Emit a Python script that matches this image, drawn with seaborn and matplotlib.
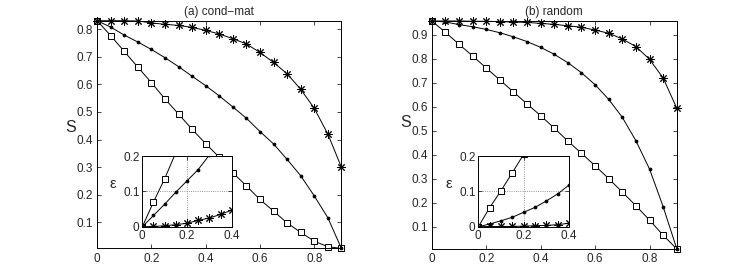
import pandas as pd
import matplotlib.pyplot as plt
import seaborn as sns

# fraction of removed edges (main panels)
x_main = [0, 0.05, 0.1, 0.15, 0.2, 0.25, 0.3, 0.35, 0.4, 0.45,
          0.5, 0.55, 0.6, 0.65, 0.7, 0.75, 0.8, 0.85, 0.9]

# (a) cond-mat
cm_square = [0.83, 0.776, 0.719, 0.662, 0.606, 0.547, 0.492, 0.437, 0.385, 0.336,
             0.280, 0.232, 0.183, 0.141, 0.098, 0.064, 0.032, 0.012, 0.006]
cm_dot = [0.83, 0.807, 0.778, 0.753, 0.726, 0.696, 0.664, 0.629, 0.595, 0.558,
          0.518, 0.477, 0.429, 0.384, 0.328, 0.269, 0.196, 0.117, 0.006]
cm_star = [0.83, 0.83, 0.83, 0.829, 0.822, 0.817, 0.813, 0.806, 0.795, 0.782,
           0.765, 0.746, 0.715, 0.679, 0.638, 0.582, 0.513, 0.42, 0.30]

# (b) random
rnd_square = [0.958, 0.911, 0.861, 0.812, 0.762, 0.712, 0.662, 0.612, 0.563, 0.511,
              0.457, 0.406, 0.354, 0.300, 0.244, 0.187, 0.127, 0.064, 0.007]
rnd_dot = [0.958, 0.954, 0.943, 0.934, 0.923, 0.909, 0.892, 0.872, 0.848, 0.819,
           0.784, 0.742, 0.692, 0.631, 0.556, 0.458, 0.340, 0.183, 0.007]
rnd_star = [0.958, 0.958, 0.958, 0.957, 0.957, 0.955, 0.954, 0.952, 0.948, 0.944,
            0.938, 0.932, 0.920, 0.907, 0.883, 0.851, 0.798, 0.720, 0.594]

# insets: epsilon
x_in = [0, 0.05, 0.1, 0.15, 0.2, 0.25, 0.3, 0.35, 0.4]
cm_in_square = [0, 0.07, 0.136, 0.21]
cm_in_dot = [0, 0.032, 0.064, 0.098, 0.130, 0.162, 0.203]
cm_in_star = [0, 0.001, 0.003, 0.006, 0.010, 0.018, 0.025, 0.035, 0.047]
rnd_in_square = [0, 0.054, 0.102, 0.153, 0.205]
rnd_in_dot = [0, 0.008, 0.017, 0.027, 0.041, 0.055, 0.073, 0.093, 0.118]
rnd_in_star = [0, 0.001, 0.001, 0.001, 0.002, 0.003, 0.004, 0.006, 0.010]

titles = ["(a) cond\u2212mat", "(b) random"]
x_ticks = [0, 0.2, 0.4, 0.6, 0.8]
x_ticklabels = ["0", "0.2", "0.4", "0.6", "0.8"]
y_ticks_a = [0.1, 0.2, 0.3, 0.4, 0.5, 0.6, 0.7, 0.8]
y_ticks_b = [0.1, 0.2, 0.3, 0.4, 0.5, 0.6, 0.7, 0.8, 0.9]
in_x_ticks = [0, 0.2, 0.4]
in_x_ticklabels = ["0", "0.2", "0.4"]
in_y_ticks = [0, 0.1, 0.2]
in_y_ticklabels = ["0", "0.1", "0.2"]

sns.set_style("ticks")
plt.rcParams['font.family'] = ['Liberation Sans', 'DejaVu Sans']
plt.rcParams.update({'font.size': 8.5, 'axes.linewidth': 0.7,
                     'xtick.direction': 'in', 'ytick.direction': 'in',
                     'xtick.top': True, 'ytick.right': True,
                     'xtick.major.size': 3, 'ytick.major.size': 3,
                     'xtick.major.width': 0.6, 'ytick.major.width': 0.6,
                     'axes.edgecolor': 'k'})

STYLES = {
    'square': dict(marker='s', markersize=5, markerfacecolor='w'),
    'dot': dict(marker='o', markersize=2, markerfacecolor='k'),
    'star': dict(marker=(8, 2, 0), markersize=6, markerfacecolor='k'),
}


def draw_series(ax, x, ys, clip):
    for kind, y in ys.items():
        df = pd.DataFrame({'x': x[:len(y)], 'y': y})
        sns.lineplot(data=df, x='x', y='y', ax=ax, color='k', lw=0.7,
                     markeredgecolor='k', markeredgewidth=0.7,
                     errorbar=None, clip_on=clip, **STYLES[kind])


fig = plt.figure(figsize=(7.47, 2.8), dpi=100)

panels = [
    dict(pos=[0.130, 0.113, 0.327, 0.813], ins=[0.1905, 0.190, 0.1197, 0.2525],
         main={'square': cm_square, 'dot': cm_dot, 'star': cm_star},
         inset={'square': cm_in_square, 'dot': cm_in_dot, 'star': cm_in_star},
         ylim=(0.006, 0.83), yticks=y_ticks_a, slab=(-0.11, 0.5)),
    dict(pos=[0.578, 0.111, 0.328, 0.814], ins=[0.6403, 0.190, 0.1214, 0.2525],
         main={'square': rnd_square, 'dot': rnd_dot, 'star': rnd_star},
         inset={'square': rnd_in_square, 'dot': rnd_in_dot, 'star': rnd_in_star},
         ylim=(0.007, 0.958), yticks=y_ticks_b, slab=(-0.105, 0.52)),
]

for p, title in zip(panels, titles):
    ax = fig.add_axes(p['pos'])
    draw_series(ax, x_main, p['main'], clip=False)
    ax.set_xlim(0, 0.9)
    ax.set_ylim(*p['ylim'])
    ax.set_xticks(x_ticks)
    ax.set_xticklabels(x_ticklabels)
    ax.set_yticks(p['yticks'])
    ax.set_yticklabels([f"{v:g}" for v in p['yticks']])
    ax.set_xlabel("")
    ax.set_ylabel("S", rotation=0, fontsize=11.5)
    ax.yaxis.set_label_coords(*p['slab'])
    ax.set_title(title, fontsize=8.5, pad=4)
    ax.tick_params(labelsize=8.5, pad=3)

    axi = fig.add_axes(p['ins'])
    axi.set_facecolor('w')
    draw_series(axi, x_in, p['inset'], clip=True)
    axi.set_xlim(0, 0.4)
    axi.set_ylim(0, 0.2)
    axi.set_xticks(in_x_ticks)
    axi.set_xticklabels(in_x_ticklabels)
    axi.set_yticks(in_y_ticks)
    axi.set_yticklabels(in_y_ticklabels)
    axi.grid(True, ls=':', color='0.45', lw=0.6)
    axi.set_xlabel("")
    axi.set_ylabel("\u03b5", rotation=0, fontsize=10.5)
    axi.yaxis.set_label_coords(-0.33, 0.5)
    axi.tick_params(labelsize=8.5, pad=2)

fig.savefig("out.png", dpi=100)
